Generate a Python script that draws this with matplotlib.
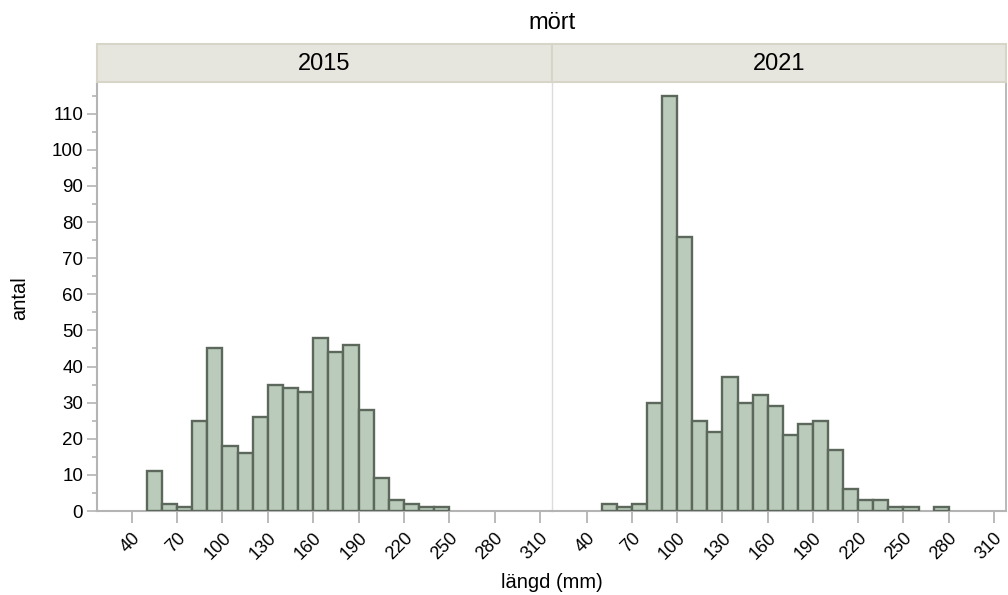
import numpy as np
import matplotlib.pyplot as plt
from matplotlib.patches import Rectangle

plt.rcParams['font.family'] = ['Liberation Sans', 'DejaVu Sans']

# 10 mm length classes, left edges
bins_2015 = [50, 60, 70, 80, 90, 100, 110, 120, 130, 140, 150, 160, 170, 180,
             190, 200, 210, 220, 230, 240]
counts_2015 = [11, 2, 1, 25, 45, 18, 16, 26, 35, 34, 33, 48, 44, 46,
               28, 9, 3, 2, 1, 1]

bins_2021 = [50, 60, 70, 80, 90, 100, 110, 120, 130, 140, 150, 160, 170, 180,
             190, 200, 210, 220, 230, 240, 250, 270]
counts_2021 = [2, 1, 2, 30, 115, 76, 25, 22, 37, 30, 32, 29, 21, 24,
               25, 17, 6, 3, 3, 1, 1, 1]

years = ['2015', '2021']
xticks = [40, 70, 100, 130, 160, 190, 220, 250, 280, 310]
yticks = list(range(0, 111, 10))

bar_face = '#bacbbb'
bar_edge = '#5c685c'
axis_gray = '#b4b4b4'
strip_face = '#e7e6de'
strip_edge = '#d6d5c8'

fig = plt.figure(figsize=(10.08, 5.95), dpi=100)

W = 1008
H = 595
panels = [(97, 552), (552, 1006)]
top, bottom = 83, 511

data = [(bins_2015, counts_2015), (bins_2021, counts_2021)]

for i, ((x0, x1), (edges, counts), year) in enumerate(zip(panels, data, years)):
    ax = fig.add_axes([x0 / W, 1 - bottom / H, (x1 - x0) / W, (bottom - top) / H])
    ax.bar(edges, counts, width=10, align='edge', color=bar_face,
           edgecolor=bar_edge, linewidth=1.7, zorder=3)
    ax.set_xlim(17, 318)
    ax.set_ylim(0, 118.5)
    ax.set_xticks(xticks)
    ax.set_xticklabels([str(t) for t in xticks], rotation=45, ha='right',
                       rotation_mode='anchor', fontsize=13)
    ax.tick_params(axis='x', length=8.5, width=1.3, color=axis_gray, pad=5)
    for side in ['top', 'right', 'left']:
        ax.spines[side].set_visible(False)
    ax.spines['bottom'].set_color(axis_gray)
    ax.spines['bottom'].set_linewidth(1.5)
    if i == 0:
        ax.spines['left'].set_visible(True)
        ax.spines['left'].set_color(axis_gray)
        ax.spines['left'].set_linewidth(1.5)
        ax.set_yticks(yticks)
        ax.set_yticks(np.arange(5, 120, 10), minor=True)
        ax.tick_params(axis='y', which='major', length=7, width=1.2,
                       color=axis_gray, labelsize=13.5, pad=3)
        ax.tick_params(axis='y', which='minor', length=3.5, width=1.2,
                       color=axis_gray)
    else:
        ax.set_yticks([])
        ax.spines['left'].set_visible(True)
        ax.spines['left'].set_color('#dcdcdc')
        ax.spines['left'].set_linewidth(1.0)
        ax.spines['right'].set_visible(True)
        ax.spines['right'].set_color(axis_gray)
        ax.spines['right'].set_linewidth(1.3)

    # facet header strip
    strip = Rectangle((x0 / W, 1 - 82 / H), (x1 - x0) / W, 38 / H,
                      transform=fig.transFigure, facecolor=strip_face,
                      edgecolor=strip_edge, linewidth=1.5)
    fig.patches.append(strip)
    fig.text((x0 + x1) / 2 / W, 1 - 64 / H, year, ha='center', va='center',
             fontsize=17)

fig.text(552 / W, 1 - 23 / H, 'mört', ha='center', va='center', fontsize=17)
fig.text(552 / W, 1 - 582 / H, 'längd (mm)', ha='center', va='center',
         fontsize=14.5)
fig.text(20 / W, 1 - 298 / H, 'antal', ha='center', va='center',
         rotation=90, fontsize=14.5)

fig.savefig('out.png', dpi=100)
